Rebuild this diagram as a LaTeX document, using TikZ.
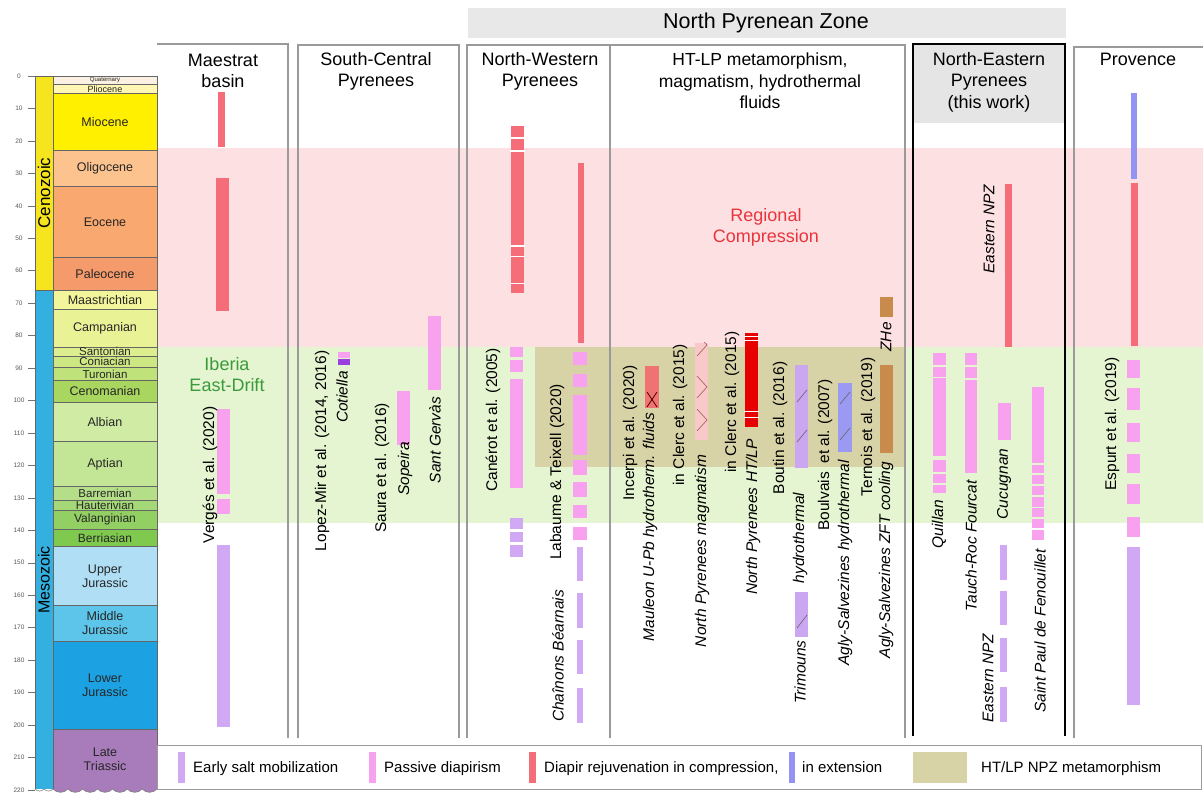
\documentclass[tikz,border=0pt]{standalone}
\usepackage{fontspec}
\setmainfont{Liberation Sans}
\definecolor{cQua}{HTML}{FBF1E2}
\definecolor{cPli}{HTML}{FFF7B3}
\definecolor{cMio}{HTML}{FFF000}
\definecolor{cOli}{HTML}{FCC38F}
\definecolor{cEoc}{HTML}{F9A86F}
\definecolor{cPal}{HTML}{F59A6A}
\definecolor{cMaa}{HTML}{F3F59B}
\definecolor{cCam}{HTML}{EAF296}
\definecolor{cSan}{HTML}{DCEE8E}
\definecolor{cCon}{HTML}{CDE783}
\definecolor{cTur}{HTML}{C0E27A}
\definecolor{cCen}{HTML}{A8D65E}
\definecolor{cAlb}{HTML}{CFEBA4}
\definecolor{cApt}{HTML}{C3E596}
\definecolor{cBar}{HTML}{B4DE88}
\definecolor{cHau}{HTML}{A5D877}
\definecolor{cVal}{HTML}{93D063}
\definecolor{cBer}{HTML}{80C94F}
\definecolor{cUJ}{HTML}{B0DEF5}
\definecolor{cMJ}{HTML}{5DC5EA}
\definecolor{cLJ}{HTML}{1CA1E2}
\definecolor{cLT}{HTML}{A87BBA}
\definecolor{cCeno}{HTML}{F5E41E}
\definecolor{cMeso}{HTML}{34B0E0}
\definecolor{bgPink}{HTML}{FDE1E2}
\definecolor{bgGreen}{HTML}{E5F5D1}
\definecolor{bgOlive}{HTML}{D8D3A7}
\definecolor{bRed}{HTML}{F46D79}
\definecolor{bPink}{HTML}{F8A2EF}
\definecolor{bLav}{HTML}{D1A8F4}
\definecolor{bBlue}{HTML}{9393F4}
\definecolor{bPurp}{HTML}{9B40E0}
\definecolor{bSalm}{HTML}{F07373}
\definecolor{bLtPink}{HTML}{F9C9C9}
\definecolor{bHot}{HTML}{E60000}
\definecolor{bBout}{HTML}{CBA6F1}
\definecolor{bBoul}{HTML}{9A9AF2}
\definecolor{bTern}{HTML}{C98B4C}
\definecolor{txRed}{HTML}{E8343C}
\definecolor{txGreen}{HTML}{3A9A3A}
\definecolor{frame}{HTML}{9A9A9A}
\newcommand\stage[6]{%
  \draw[tsl,fill=#3] (53,{ty(#1)}) rectangle (157,{ty(#2)});
  \node[align=center,font=\fontsize{#5}{14}\selectfont,text=black!85,inner sep=0pt] (#6) at (105,{ty((#1+#2)/2)}) {#4};}
\newcommand\bx[5]{\fill[#1] (#2,#3) rectangle (#4,#5);}
\begin{document}
\begin{tikzpicture}[x=1pt,y=-1pt,
  declare function={ty(\t)=76+3.245*\t;},
  tsl/.style={draw=black!60,line width=0.6pt},
  lab/.style={rotate=90,inner sep=0pt,font=\fontsize{15.5}{18}\selectfont},
  ilab/.style={rotate=90,inner sep=0pt,font=\fontsize{15.5}{18}\selectfont\itshape},
  ttl/.style={align=center,inner sep=0pt,font=\fontsize{18}{21}\selectfont},
  leg/.style={anchor=base west,inner sep=0pt,font=\fontsize{15}{18}\selectfont},
  colline/.style={draw=frame,line width=1.2pt},
  gapline/.style={white,line width=1.3pt}]
\useasboundingbox (0,0) rectangle (1203,794);
\fill[white] (0,0) rectangle (1203,794);
% background bands
\fill[bgPink] (157,148) rectangle (1203,347);
\fill[bgGreen] (157,347) rectangle (1203,523);
\fill[bgOlive] (535,347) rectangle (905,467);
% header
\fill[black!9] (468,8) rectangle (1066,38);
\node[inner sep=0pt,font=\fontsize{21.5}{24}\selectfont] (npz) at (766,23) {North Pyrenean Zone};
\fill[black!10] (913,44) rectangle (1065,123);
% column frames
\draw[colline] (157,44) -- (288,44) -- (288,738);
\draw[colline] (298,738) -- (298,45) -- (459,45) -- (459,738);
\draw[colline] (467,738) -- (467,45) -- (905,45) -- (905,738);
\draw[colline] (610,45) -- (610,738);
\draw[colline] (1074,738) -- (1074,47) -- (1203,47);
\draw[black,line width=2.6pt] (913,736) -- (913,44) -- (1065,44) -- (1065,736);
% titles
\node[ttl] (tMae) at (223,71) {Maestrat\\basin};
\node[ttl] (tSC) at (376,71) {South-Central\\Pyrenees};
\node[ttl] (tNW) at (540,71) {North-Western\\Pyrenees};
\node[ttl,font=\fontsize{17.5}{21.5}\selectfont] (tHT) at (760,81) {HT-LP metamorphism,\\magmatism, hydrothermal\\fluids};
\node[ttl,font=\fontsize{18}{21.5}\selectfont] (tNE) at (989,82) {North-Eastern\\Pyrenees\\(this work)};
\node[ttl] (tPro) at (1138,59) {Provence};
\node[ttl,text=txRed] (reg) at (766,227) {Regional\\Compression};
\node[ttl,text=txGreen] (ibe) at (227,375) {Iberia\\East-Drift};
% time scale
\fill[cCeno] (35,{ty(0)}) rectangle (53,{ty(66)});
\draw[tsl] (35,{ty(0)}) rectangle (53,{ty(66)});
\fill[cMeso] (35,{ty(66)}) -- (53,{ty(66)}) -- (53,789) -- (35,789) -- cycle;
\draw[tsl] (35,789) -- (35,{ty(66)}) -- (53,{ty(66)});
\stage{0}{2.6}{cQua}{Quaternary}{6}{sQua}
\stage{2.6}{5.3}{cPli}{Pliocene}{9}{sPli}
\stage{5.3}{23}{cMio}{Miocene}{12.5}{sMio}
\stage{23}{33.9}{cOli}{Oligocene}{12.5}{sOli}
\stage{33.9}{56}{cEoc}{Eocene}{12.5}{sEoc}
\stage{56}{66}{cPal}{Paleocene}{12.5}{sPal}
\stage{66}{72}{cMaa}{Maastrichtian}{12.5}{sMaa}
\stage{72}{83.6}{cCam}{Campanian}{12.5}{sCam}
\stage{83.6}{86.3}{cSan}{Santonian}{11.5}{sSan}
\stage{86.3}{89.8}{cCon}{Coniacian}{11.5}{sCon}
\stage{89.8}{93.9}{cTur}{Turonian}{11.5}{sTur}
\stage{93.9}{100.5}{cCen}{Cenomanian}{12.5}{sCen}
\stage{100.5}{112.7}{cAlb}{Albian}{12.5}{sAlb}
\stage{112.7}{126.3}{cApt}{Aptian}{12.5}{sApt}
\stage{126.3}{130.7}{cBar}{Barremian}{11.5}{sBar}
\stage{130.7}{133.8}{cHau}{Hauterivian}{11.5}{sHau}
\stage{133.8}{139.6}{cVal}{Valanginian}{12}{sVal}
\stage{139.6}{145}{cBer}{Berriasian}{12}{sBer}
\stage{145}{163.1}{cUJ}{Upper\\Jurassic}{12.5}{sUJ}
\stage{163.1}{174.1}{cMJ}{Middle\\Jurassic}{12.5}{sMJ}
\stage{174.1}{201.3}{cLJ}{Lower\\Jurassic}{12.5}{sLJ}
\fill[cLT] (53,{ty(201.3)}) -- (157,{ty(201.3)}) -- (157,789)
  to[bend left=50] (142.14,789) to[bend left=50] (127.29,789) to[bend left=50] (112.43,789)
  to[bend left=50] (97.57,789) to[bend left=50] (82.71,789) to[bend left=50] (67.86,789)
  to[bend left=50] (53,789) -- cycle;
\draw[tsl] (53,789) -- (53,{ty(201.3)}) -- (157,{ty(201.3)}) -- (157,789);
\draw[black!50,line width=0.6pt] (157,789)
  to[bend left=50] (142.14,789) to[bend left=50] (127.29,789) to[bend left=50] (112.43,789)
  to[bend left=50] (97.57,789) to[bend left=50] (82.71,789) to[bend left=50] (67.86,789)
  to[bend left=50] (53,789) to[bend left=50] (44,789) to[bend left=50] (35,789);
\node[align=center,font=\fontsize{12.5}{14}\selectfont,text=black!85,inner sep=0pt] (sLT) at (105,{ty(210.5)}) {Late\\Triassic};
\node[rotate=90,inner sep=0pt,font=\fontsize{17}{17}\selectfont] (ceno) at (44,193) {Cenozoic};
\node[rotate=90,inner sep=0pt,font=\fontsize{16}{16}\selectfont] (meso) at (44,580) {Mesozoic};
\foreach \t in {0,10,...,220} {
  \draw[black!55,line width=0.5pt] (28,{ty(\t)}) -- (35,{ty(\t)});
  \node[inner sep=0pt,font=\fontsize{6.5}{7}\selectfont,text=black!65] (tk\t) at (19,{ty(\t)}) {\t};
}
% ---- Maestrat
\bx{bRed}{218}{92}{225}{147}
\bx{bRed}{216}{178}{229}{311}
\bx{bPink}{217}{409}{230}{494}
\bx{bPink}{217}{499}{230}{514}
\bx{bLav}{217}{545}{230}{727}
\node[lab] (verges) at (210,475) {Vergés et al. (2020)};
% ---- South-Central
\bx{bPink}{338}{352}{350}{358}
\bx{bPurp}{338}{359}{350}{365}
\bx{bPink}{397}{391}{410}{445}
\bx{bPink}{428}{316}{441}{390}
\node[lab] (lopez) at (322,451) {Lopez-Mir et al. (2014, 2016)};
\node[ilab] (cot) at (342,397) {Cotiella};
\node[lab] (saura) at (382,468) {Saura et al. (2016)};
\node[ilab] (sop) at (405,469) {Sopeira};
\node[ilab] (sant) at (435,440) {Sant Gervàs};
% ---- North-Western
\bx{bRed}{511}{126}{524}{293}
\foreach \g in {138,151,246,256.5,283.5} {\draw[gapline] (510,\g) -- (525,\g);}
\bx{bPink}{510}{347}{523}{357}
\bx{bPink}{510}{360}{523}{372}
\bx{bPink}{510}{379}{523}{488}
\bx{bLav}{510}{518}{523}{529}
\bx{bLav}{510}{532}{523}{542}
\bx{bLav}{510}{545}{523}{557}
\node[lab] (can) at (493,420) {Canérot et al. (2005)};
\bx{bRed}{578}{163}{584}{343}
\foreach \a/\b in {352/365,374/387,395/455,460/475,482/497,505/518,527/540} {\fill[bPink] (573,\a) rectangle (587,\b);}
\foreach \a/\b in {547/581,593/628,640/674,688/723} {\fill[bLav] (577,\a) rectangle (583,\b);}
\node[lab] (lab) at (557,472) {Labaume \& Teixell (2020)};
\node[ilab] (chain) at (558,656) {Chaînons Béarnais};
% ---- HT-LP
\bx{bSalm}{645}{366}{659}{408}
\draw[black!70!red,line width=0.8pt] (647,392) -- (657,407) (647,407) -- (657,392);
\node[lab] (inc) at (630,433) {Incerpi et al. (2020)};
\node[ilab] (maul) at (650,527) {Mauleon U-Pb hydrotherm. fluids};
\bx{bLtPink}{695}{343}{708}{440}
\begin{scope}
\clip (695,343) rectangle (708,440);
\draw[red!45!black!60,line width=0.7pt] (697,334) -- (707,345) -- (697,356);
\draw[red!45!black!60,line width=0.7pt] (697,376) -- (707,387) -- (697,398);
\draw[red!45!black!60,line width=0.7pt] (697,409) -- (707,420) -- (697,431);
\end{scope}
\node[lab] (cl1) at (680,415) {in Clerc et al. (2015)};
\node[ilab] (npm) at (702,551) {North Pyrenees magmatism};
\bx{bHot}{745}{333}{758}{427}
\foreach \g in {337,341,412,418} {\draw[gapline,line width=1pt] (744,\g) -- (759,\g);}
\node[lab] (cl2) at (732,402) {in Clerc et al. (2015)};
\node[ilab] (nph) at (753,517) {North Pyrenees HT/LP};
\bx{bBout}{795}{365}{808}{468}
\draw[black!60,line width=0.6pt] (797,402) -- (807,390) (797,442) -- (807,430);
\bx{bBout}{795}{592}{808}{637}
\draw[black!60,line width=0.6pt] (797,628) -- (807,615);
\node[lab] (bout) at (780,428) {Boutin et al. (2016)};
\node[ilab] (hyd) at (800,538) {hydrothermal};
\node[ilab] (tri) at (800,672) {Trimouns};
\bx{bBoul}{838}{383}{852}{452}
\draw[black!60,line width=0.6pt] (840,404) -- (850,392) (840,440) -- (850,428);
\node[lab] (boul) at (825,455) {Boulvais\ \ et al. (2007)};
\node[ilab] (aglh) at (845,563) {Agly-Salvezines hydrothermal};
\bx{bTern}{880}{365}{893}{453}
\bx{bTern}{880}{297}{893}{317}
\node[ilab] (zhe) at (886,337) {ZHe};
\node[lab] (tern) at (868,427) {Ternois et al. (2019)};
\node[ilab] (aglz) at (886,560) {Agly-Salvezines ZFT cooling};
% ---- North-Eastern
\bx{bRed}{1005}{184}{1012}{347}
\node[ilab] (enpz1) at (989,229) {Eastern NPZ};
\foreach \a/\b in {353/365,367/377,378.5/456,460/472,473.5/483,484.5/493} {\fill[bPink] (933,\a) rectangle (946,\b);}
\node[ilab] (quil) at (939,524) {Quillan};
\foreach \a/\b in {353/365,367/378,380/473} {\fill[bPink] (965,\a) rectangle (977,\b);}
\node[ilab] (tauch) at (971,546) {Tauch-Roc Fourcat};
\bx{bPink}{998}{403}{1011}{440}
\node[ilab] (cuc) at (1004,484) {Cucugnan};
\foreach \a/\b in {545/580,591/625,638/672,687/722} {\fill[bLav] (1000,\a) rectangle (1007,\b);}
\node[ilab] (enpz2) at (988,678) {Eastern NPZ};
\foreach \a/\b in {387/463,464.5/473,475/484,486/495,497/507,508/517,519/528,530/540} {\fill[bPink] (1032,\a) rectangle (1044,\b);}
\node[ilab] (spf) at (1040,631) {Saint Paul de Fenouillet};
% ---- Provence
\bx{bBlue}{1131}{93}{1137}{179}
\bx{bRed}{1131}{183}{1138}{346}
\foreach \a/\b in {360/378,388/410,423/442,454/473,484/504,517/537} {\fill[bPink] (1127,\a) rectangle (1140,\b);}
\bx{bLav}{1127}{547}{1140}{705}
\node[lab] (esp) at (1112,424) {Espurt et al. (2019)};
% ---- legend
\draw[frame,line width=1pt] (157,745) rectangle (1201,789);
\bx{bLav}{178}{752}{185}{783}
\node[leg] (l1) at (193,772) {Early salt mobilization};
\bx{bPink}{369}{752}{376}{783}
\node[leg] (l2) at (384,772) {Passive diapirism};
\bx{bRed}{529}{752}{536}{783}
\node[leg] (l3) at (544,772) {Diapir rejuvenation in compression,};
\bx{bBlue}{789}{752}{795}{783}
\node[leg] (l4) at (802,772) {in extension};
\bx{bgOlive}{913}{752}{967}{783}
\node[leg] (l5) at (981,772) {HT/LP NPZ metamorphism};
\end{tikzpicture}
\end{document}
